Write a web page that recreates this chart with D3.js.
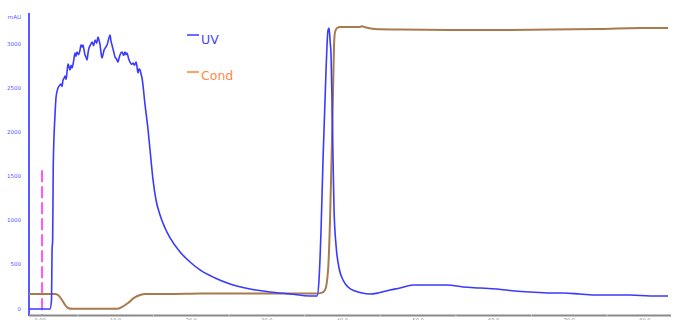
<!DOCTYPE html>
<html><head><meta charset="utf-8">
<script src="https://cdn.jsdelivr.net/npm/d3@7"></script>
<style>html,body{margin:0;padding:0;background:#fff;}svg{display:block;}</style>
</head><body>
<svg id="c" width="678" height="320"></svg>
<script>
// Volume (ml) and values
const uvX = [-1.46,1.32,1.52,1.59,1.67,1.75,1.98,2.12,2.38,2.58,2.78,2.91,3.04,3.17,3.31,3.44,3.57,3.70,3.84,3.97,4.10,4.23,4.43,4.63,4.76,4.89,5.09,5.29,5.42,5.56,5.69,5.82,5.95,6.09,6.22,6.35,6.48,6.68,6.88,7.08,7.28,7.48,7.67,7.81,7.94,8.07,8.20,8.33,8.47,8.66,8.86,9.06,9.26,9.39,9.52,9.72,9.92,10.12,10.32,10.45,10.58,10.72,10.85,11.05,11.24,11.38,11.51,11.70,11.90,12.10,12.30,12.50,12.70,12.83,12.96,13.10,13.23,13.36,13.49,13.89,14.29,14.55,14.95,15.34,15.87,16.53,17.20,18.52,19.84,21.16,23.15,25.13,27.78,30.42,33.07,35.71,36.64,36.90,37.17,37.43,37.70,37.83,37.96,38.10,38.23,38.36,38.49,38.62,38.76,38.89,39.15,39.55,40.08,40.74,41.67,42.59,43.65,44.71,46.30,47.62,49.34,51.59,53.84,55.95,58.20,60.45,62.83,64.81,67.46,69.18,71.43,73.68,76.06,78.04,80.69,83.07];
const uvY = [0,0,102,668,781,1630,2196,2400,2502,2530,2547,2520,2592,2610,2638,2600,2683,2774,2740,2706,2760,2728,2800,2898,2860,2909,2880,2932,2990,2966,2989,2930,2875,2850,2819,2900,2955,2990,3023,2980,3045,3010,3079,3040,2989,2900,2842,2880,2932,2960,2989,3050,3102,3030,2989,2920,2853,2830,2796,2840,2876,2900,2910,2870,2910,2880,2898,2840,2796,2770,2785,2760,2796,2740,2672,2720,2706,2660,2615,2310,2026,1800,1460,1234,1064,917,804,645,532,442,351,283,226,192,170,147,147,328,894,1687,2366,2706,2989,3159,3181,3045,2876,2366,1687,1121,725,464,328,249,204,181,170,181,215,238,272,272,272,249,238,226,204,192,181,181,170,158,158,158,147,147];
const condX = [-1.46,1.98,2.38,2.91,3.31,3.70,4.23,10.19,10.85,11.64,12.43,13.23,13.89,17.20,21.16,27.78,36.51,37.30,37.70,38.10,38.36,38.62,38.76,38.89,39.02,39.29,39.68,41.0,42.2,42.6,43.0,44.31,47.62,54.23,60.85,67.46,74.07,79.37,83.07];
const condY = [170,170,158,102,45,11,2,2,23,68,125,158,170,170,175,175,175,185,215,442,1008,1913,2479,2989,3136,3181,3193,3193,3192,3200,3190,3170,3164,3159,3159,3164,3170,3181,3181];
const yTicks = [0,500,1000,1500,2000,2500,3000];
const xTicks = [0,10,20,30,40,50,60,70,80];
const xMinor = [5,15,25,35,45,55,65,75];
const xLabels = ["0.00","10.0","20.0","30.0","40.0","50.0","60.0","70.0","80.0"];
const series = ["UV","Cond"];
const injectAt = 0.2;

const svg = d3.select("#c");
const x = d3.scaleLinear().domain([-1.46, 83.5]).range([29, 671.3]);
const y = d3.scaleLinear().domain([0, 3000]).range([309, 44]);

// y axis
svg.append("line").attr("x1",29).attr("x2",29).attr("y1",13).attr("y2",316)
  .attr("stroke","#5a5aff").attr("stroke-width",2);
svg.append("g").selectAll("text").data(yTicks).join("text")
  .attr("x",21).attr("y",d=>y(d)).attr("text-anchor","end").attr("dominant-baseline","middle")
  .attr("font-family","DejaVu Sans").attr("font-size",5.5).attr("fill","#5555ff").text(d=>d);
svg.append("text").attr("x",21).attr("y",17).attr("text-anchor","end").attr("dominant-baseline","middle")
  .attr("font-family","DejaVu Sans").attr("font-size",5.5).attr("fill","#5555ff").text("mAU");

// x axis
svg.append("line").attr("x1",29).attr("x2",671).attr("y1",315.5).attr("y2",315.5)
  .attr("stroke","#8a8a8a").attr("stroke-width",2);
svg.append("g").selectAll("line").data(xMinor).join("line")
  .attr("x1",d=>x(d)).attr("x2",d=>x(d)).attr("y1",314).attr("y2",317)
  .attr("stroke","#d0d0d0").attr("stroke-width",1);
svg.append("g").selectAll("text").data(xTicks).join("text")
  .attr("x",d=>x(d)).attr("y",318).attr("text-anchor","middle").attr("dominant-baseline","hanging")
  .attr("font-family","DejaVu Sans").attr("font-size",5).attr("fill","#888").text((d,i)=>xLabels[i]);

// injection marker
svg.append("line").attr("x1",x(injectAt)+0.5).attr("x2",x(injectAt)+0.5).attr("y1",y(1570)).attr("y2",315)
  .attr("stroke","#ff55ff").attr("stroke-width",2).attr("stroke-dasharray","12,4");

const line = d3.line().x(d=>x(d[0])).y(d=>y(d[1])).curve(d3.curveMonotoneX);
svg.append("path").datum(condX.map((v,i)=>[v,condY[i]])).attr("d",line)
  .attr("fill","none").attr("stroke","#a87a4e").attr("stroke-width",2);
svg.append("path").datum(uvX.map((v,i)=>[v,uvY[i]])).attr("d",line)
  .attr("fill","none").attr("stroke","#3a3aff").attr("stroke-width",1.6);

// legend
const leg = [{c:"#4444ff",ly:35,ty:44},{c:"#ff8844",ly:72,ty:80}];
series.forEach((s,i)=>{
  svg.append("line").attr("x1",187).attr("x2",199).attr("y1",leg[i].ly).attr("y2",leg[i].ly)
    .attr("stroke",leg[i].c).attr("stroke-width",1.6);
  svg.append("text").attr("x",201).attr("y",leg[i].ty).attr("font-family","DejaVu Sans")
    .attr("font-size",12.5).attr("fill",leg[i].c).text(s);
});
</script>
</body></html>
